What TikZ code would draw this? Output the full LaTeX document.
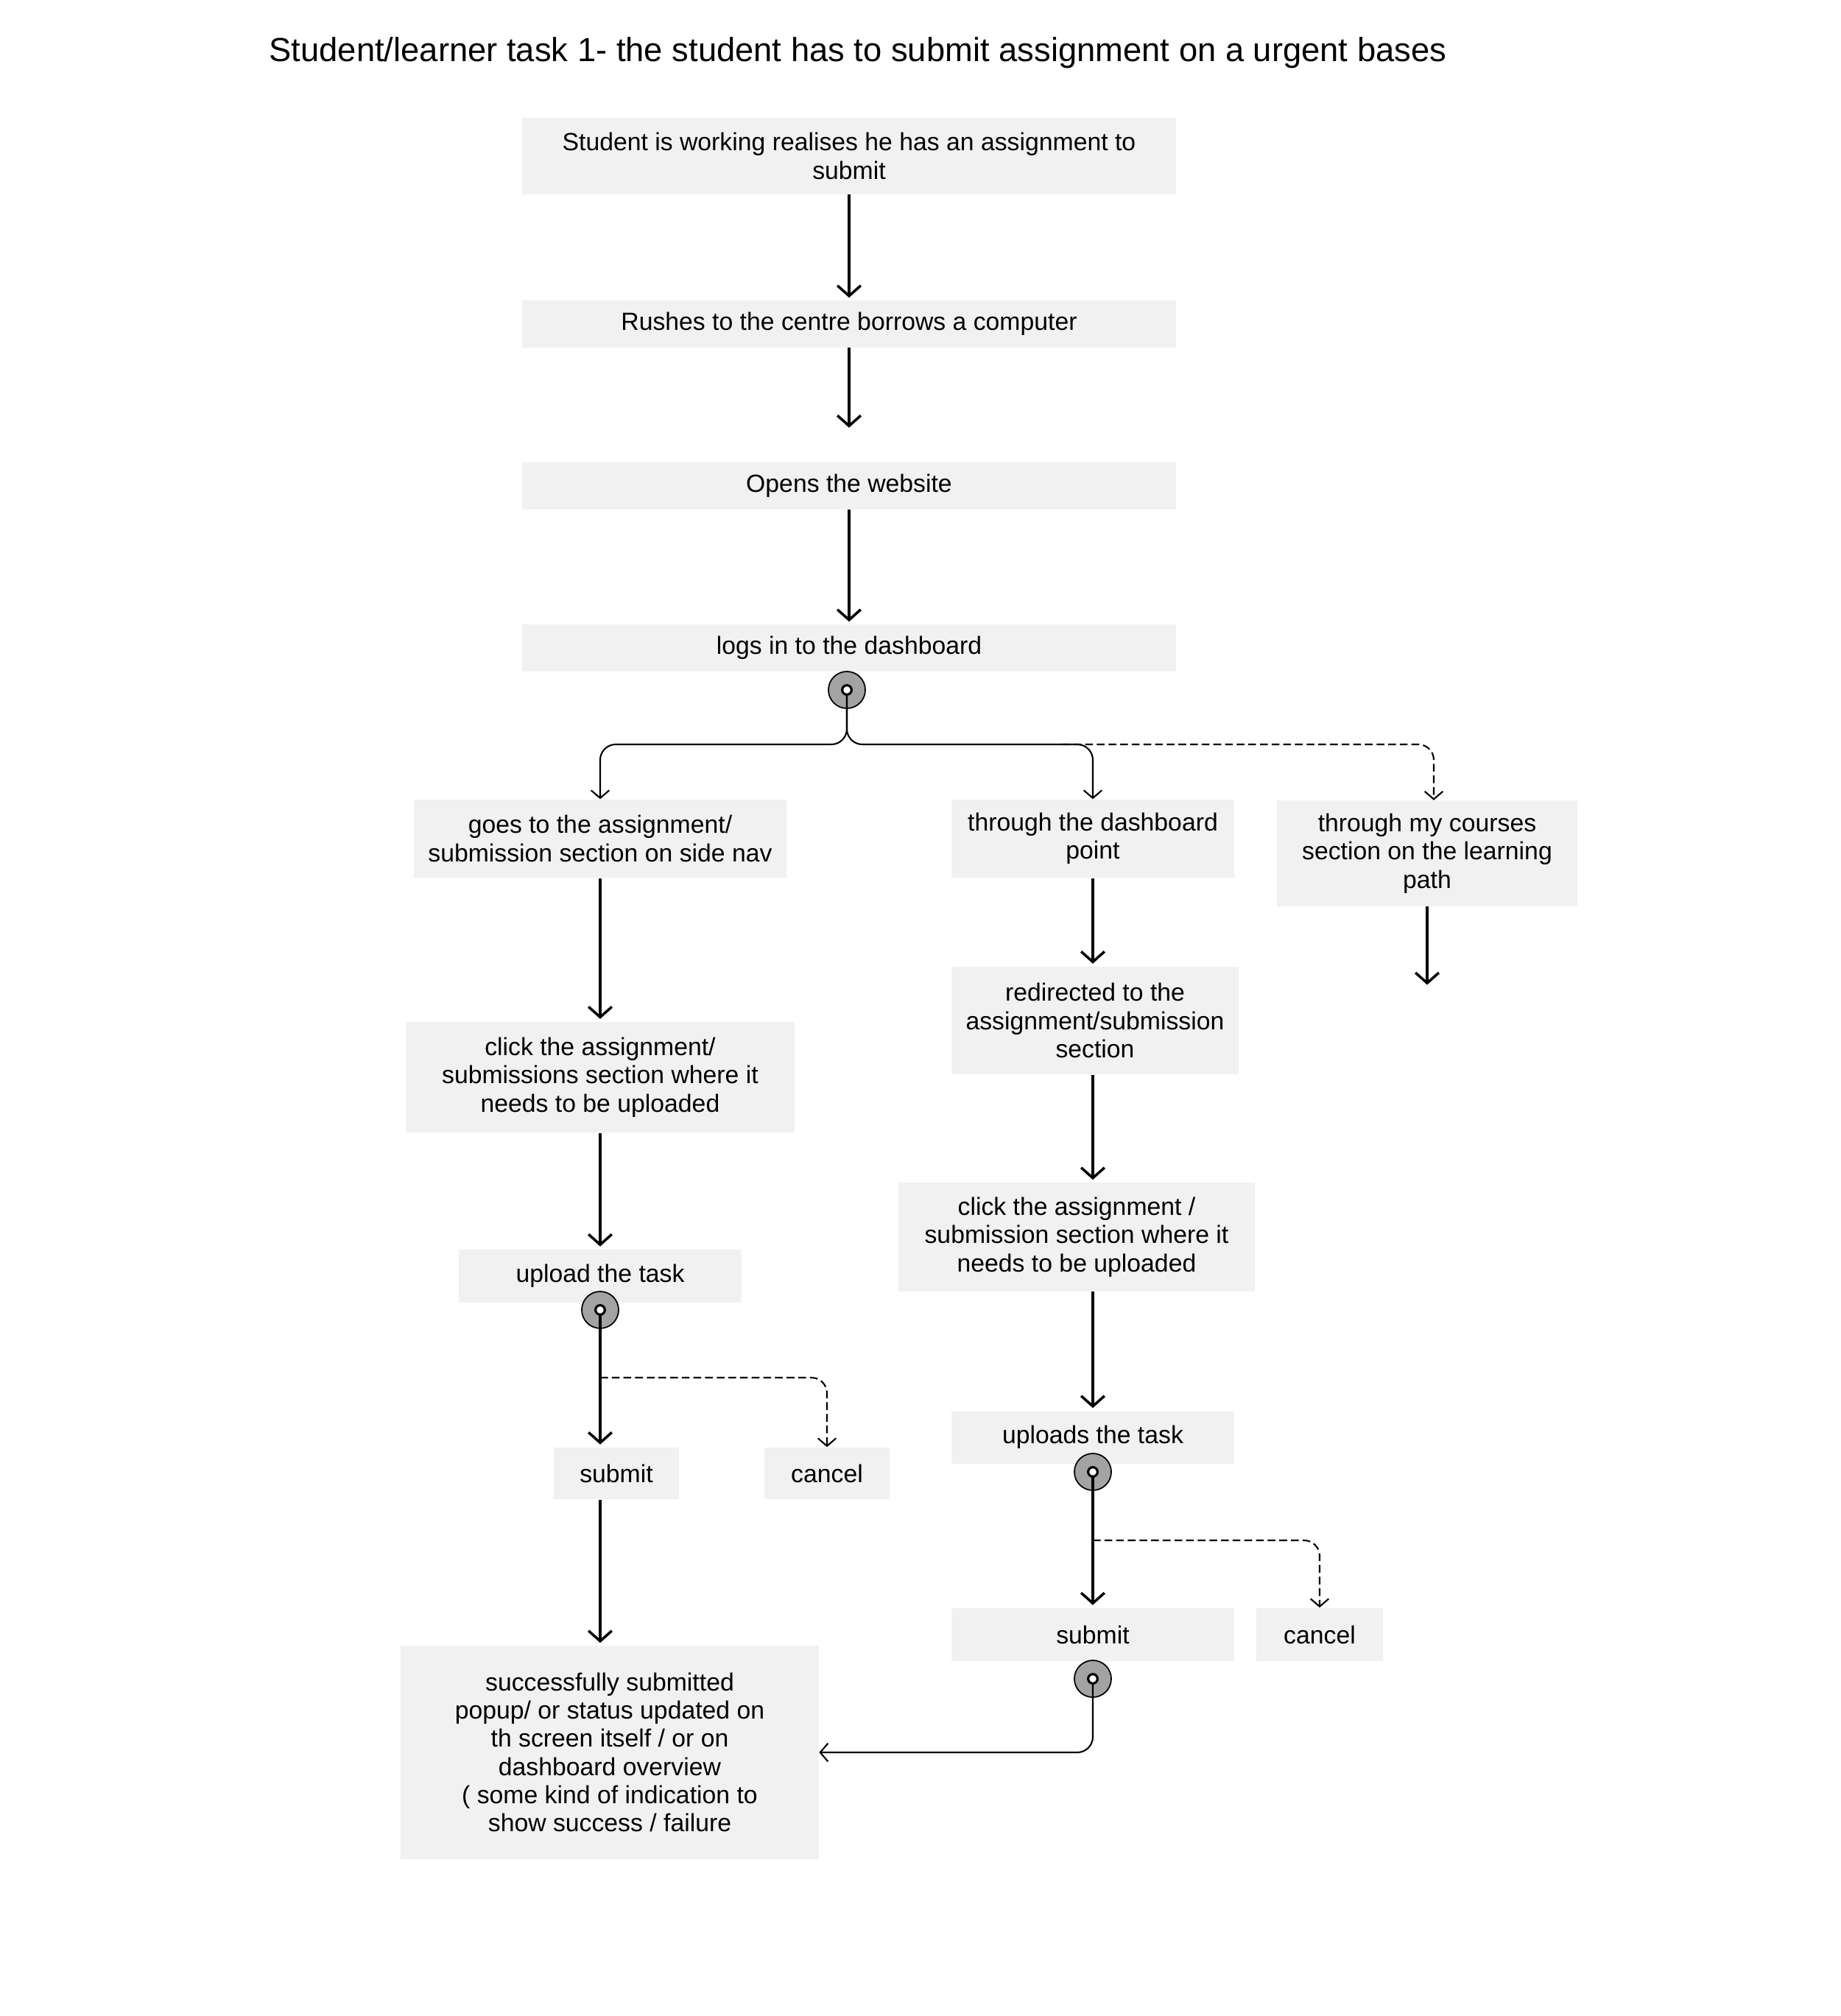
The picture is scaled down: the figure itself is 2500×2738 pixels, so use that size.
\documentclass[tikz,border=0pt]{standalone}
\usepackage{fontspec}
\setmainfont{Liberation Sans}
\definecolor{BoxGrey}{HTML}{F1F1F1}
\definecolor{DotGrey}{HTML}{A3A3A3}
\definecolor{InkBlack}{HTML}{000000}
\usetikzlibrary{arrows.meta, positioning, calc}

\begin{document}
\begin{tikzpicture}[x=0.01cm, y=-0.01cm,
    taskbox/.style={fill=BoxGrey, align=center, inner sep=0pt, font=\fontsize{9.6}{10.9}\selectfont},
    junction/.style={circle, draw=InkBlack, line width=0.5pt, fill=DotGrey, minimum size=0.5cm, inner sep=0pt},
    flow/.style={InkBlack, line width=1pt, shorten >=1pt, -{Straight Barb[length=4pt, width=9pt]}},
    branch/.style={InkBlack, line width=0.6pt, rounded corners=6pt, -{Straight Barb[length=3pt, width=7pt]}},
    optional/.style={branch, dash pattern=on 3pt off 1.5pt}]
        \useasboundingbox (0, 0) rectangle (2500, 2738);

        % Title
        \node[font=\fontsize{12.9}{15}\selectfont] (title) at (1165, 72) {Student/learner task 1- the student has to submit assignment on a urgent bases};

        % Main column
        \node[taskbox, minimum width=8.88cm, minimum height=1.03cm] (realise) at (1153, 212) {Student is working realises he has an assignment to\\submit};
        \node[taskbox, minimum width=8.88cm, minimum height=0.63cm] (rush) at (1153, 440) {Rushes to the centre borrows a computer};
        \node[taskbox, minimum width=8.88cm, minimum height=0.63cm] (website) at (1153, 660) {Opens the website};
        \node[taskbox, minimum width=8.88cm, minimum height=0.63cm] (login) at (1153, 880) {logs in to the dashboard};
        \node[junction] (loginDot) at (1150, 937) {};

        % Three ways in
        \node[taskbox, minimum width=5.06cm, minimum height=1.06cm] (sidenav) at (815, 1139) {goes to the assignment/\\submission section on side nav};
        \node[taskbox, minimum width=3.84cm, minimum height=1.06cm] (dashpoint) at (1484, 1139) {through the dashboard\\point};
        \node[taskbox, minimum width=4.08cm, minimum height=1.43cm] (courses) at (1938, 1159) {through my courses\\section on the learning\\path\hspace{0.24cm}};
        \coordinate (split) at (1150, 1011);
        \coordinate (pathEnd) at (1938, 1341);

        % Left column
        \node[taskbox, minimum width=5.27cm, minimum height=1.50cm] (clickL) at (815, 1463) {click the assignment/\\submissions section where it\\needs to be uploaded};
        \node[taskbox, minimum width=3.84cm, minimum height=0.72cm] (uploadL) at (815, 1733) {upload the task};
        \node[junction] (uploadLDot) at (815, 1779) {};
        \coordinate (forkL) at (815, 1871);
        \node[taskbox, minimum width=1.70cm, minimum height=0.70cm] (submitL) at (837, 2001) {submit};
        \node[taskbox, minimum width=1.69cm, minimum height=0.70cm] (cancelL) at (1123, 2001) {cancel};
        \node[taskbox, minimum width=5.67cm, minimum height=2.89cm] (result) at (828, 2380) {successfully submitted\\popup/ or status updated on\\th screen itself / or on\\dashboard overview\\( some kind of indication to\\show success / failure};

        % Right column
        \node[taskbox, minimum width=3.89cm, minimum height=1.46cm] (redirect) at (1487, 1386) {redirected to the\\assignment/submission\\section};
        \node[taskbox, minimum width=4.84cm, minimum height=1.47cm] (clickR) at (1462, 1680) {click the assignment /\\submission section where it\\needs to be uploaded};
        \node[taskbox, minimum width=3.84cm, minimum height=0.71cm] (uploadR) at (1484, 1952) {uploads the task};
        \node[junction] (uploadRDot) at (1484, 1999) {};
        \coordinate (forkR) at (1484, 2092);
        \node[taskbox, minimum width=3.84cm, minimum height=0.72cm] (submitR) at (1484, 2220) {submit};
        \node[taskbox, minimum width=1.71cm, minimum height=0.72cm] (cancelR) at (1792, 2220) {cancel};
        \node[junction] (submitRDot) at (1484, 2280) {};

        % Connectors, main column
        \draw[flow] (realise) -- (rush);
        \draw[flow, shorten >=0.47cm] (rush) -- (website);
        \draw[flow] (website) -- (login);
        \draw[branch] (loginDot.center) -- (split) -| (sidenav.north);
        \draw[branch] (loginDot.center) -- (split) -| (dashpoint.north);
        \draw[optional] ([xshift=-0.42cm]dashpoint.north |- split) -| ([xshift=0.09cm]courses.north);
        \draw[flow] (courses) -- (pathEnd);

        % Connectors, left column
        \draw[flow] (sidenav) -- (clickL);
        \draw[flow] (clickL) -- (uploadL);
        \draw[flow] (uploadLDot.center) -- (uploadLDot.center |- submitL.north);
        \draw[optional] (forkL) -| (cancelL.north);
        \draw[flow] (submitL.south -| uploadLDot) -- (result.north -| uploadLDot);

        % Connectors, right column
        \draw[flow] (dashpoint.south) -- (dashpoint.south |- redirect.north);
        \draw[flow] (redirect.south -| dashpoint) -- (clickR.north -| dashpoint);
        \draw[flow] (clickR.south -| dashpoint) -- (uploadR.north);
        \draw[flow] (uploadRDot.center) -- (submitR.north);
        \draw[optional] (forkR) -| (cancelR.north);
        \draw[branch] (submitRDot.center) |- (result.east);

        % Rings on the junctions
        \foreach \d in {loginDot, uploadLDot, uploadRDot, submitRDot}
            \draw[InkBlack, line width=0.9pt, fill=white] (\d.center) circle[radius=1.8pt];
    \end{tikzpicture}
\end{document}
